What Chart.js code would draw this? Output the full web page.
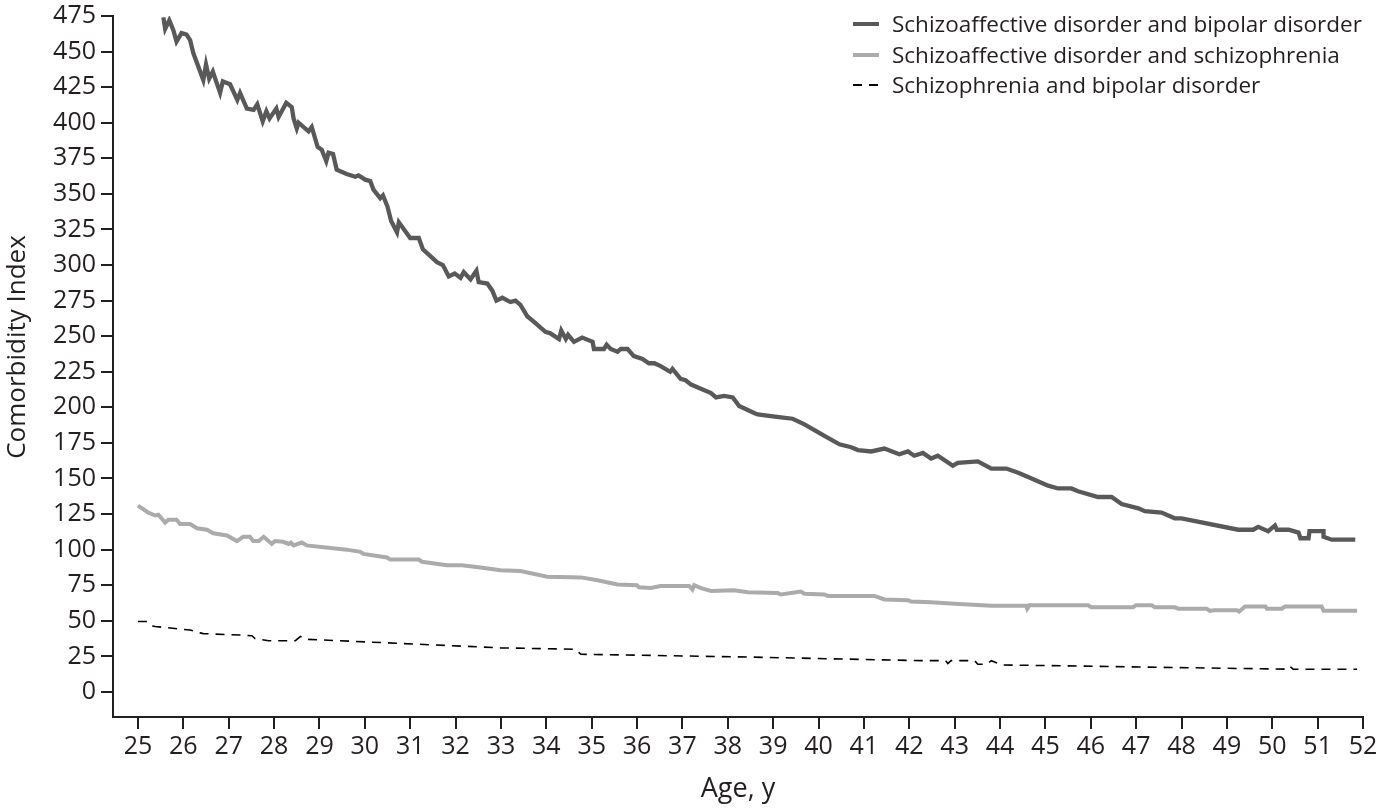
<!DOCTYPE html>
<html>
<head>
<meta charset="utf-8">
<script src="https://cdn.jsdelivr.net/npm/chart.js@4"></script>
<style>
  html, body { margin: 0; padding: 0; background: #fff; }
  canvas { display: block; }
</style>
</head>
<body>
<canvas id="chart" width="1380" height="809"></canvas>
<script>
// Series labels
const seriesNames = [
  "Schizoaffective disorder and bipolar disorder",
  "Schizoaffective disorder and schizophrenia",
  "Schizophrenia and bipolar disorder"
];

// Schizoaffective disorder and bipolar disorder
const saBipAge = [25.56, 25.60, 25.69, 25.78, 25.85, 25.96, 26.07, 26.15, 26.22, 26.44, 26.50, 26.57, 26.65, 26.81, 26.87,
  27.03, 27.19, 27.25, 27.40, 27.55, 27.63, 27.75, 27.83, 27.90, 28.05, 28.10, 28.27, 28.39, 28.43, 28.50, 28.54, 28.76,
  28.83, 28.96, 29.05, 29.15, 29.20, 29.30, 29.38, 29.60, 29.79, 29.86, 30.01, 30.12, 30.19, 30.34, 30.40, 30.50, 30.58,
  30.71, 30.75, 31.00, 31.19, 31.28, 31.59, 31.72, 31.85, 31.98, 32.11, 32.18, 32.33, 32.46, 32.51, 32.70, 32.81, 32.90,
  33.03, 33.21, 33.32, 33.43, 33.58, 33.73, 33.98, 34.09, 34.28, 34.33, 34.43, 34.48, 34.61, 34.79, 35.02, 35.05, 35.27,
  35.33, 35.42, 35.57, 35.64, 35.79, 35.93, 36.12, 36.26, 36.38, 36.52, 36.73, 36.78, 36.96, 37.07, 37.19, 37.63, 37.74,
  37.92, 38.11, 38.25, 38.58, 38.66, 38.91, 39.17, 39.43, 39.69, 39.91, 40.13, 40.46, 40.72, 40.87, 41.16, 41.45, 41.78,
  41.97, 42.11, 42.30, 42.48, 42.63, 42.96, 43.07, 43.51, 43.81, 44.14, 44.40, 44.62, 45.06, 45.28, 45.57, 45.72, 46.16,
  46.46, 46.68, 47.05, 47.19, 47.56, 47.85, 48.00, 49.25, 49.58, 49.69, 49.91, 50.06, 50.10, 50.36, 50.58, 50.62, 50.80,
  50.82, 51.13, 51.13, 51.31, 51.83];
const saBipVal = [474, 466, 472, 465, 457, 463, 462, 458, 449, 430, 441, 431, 436, 421, 429,
  427, 416, 421, 410, 409, 413, 401, 408, 403, 410, 404, 414, 411, 403, 396, 400, 394,
  397, 383, 381, 373, 379, 378, 367, 364, 362, 363, 360, 359, 353, 347, 349, 341, 331,
  323, 330, 319, 319, 311, 302, 300, 292, 294, 291, 295, 290, 296, 288, 287, 282, 275,
  277, 274, 275, 272, 264, 260, 253, 252, 248, 254, 248, 251, 246, 249, 246, 241, 241,
  244, 241, 239, 241, 241, 236, 234, 231, 231, 229, 225, 227, 220, 219, 216, 210, 207,
  208, 207, 201, 196, 195, 194, 193, 192, 188, 184, 180, 174, 172, 170, 169, 171, 167,
  169, 166, 168, 164, 166, 159, 161, 162, 157, 157, 154, 151, 145, 143, 143, 141, 137,
  137, 132, 129, 127, 126, 122, 122, 114, 114, 116, 113, 117, 114, 114, 112, 108, 108,
  113, 113, 109, 107, 107];

// Schizoaffective disorder and schizophrenia
const saSczAge = [25.00, 25.23, 25.38, 25.45, 25.60, 25.67, 25.85, 25.93, 26.15, 26.30, 26.52, 26.66, 26.96, 27.18, 27.32,
  27.47, 27.54, 27.66, 27.77, 27.95, 28.02, 28.20, 28.32, 28.37, 28.43, 28.61, 28.72, 29.60, 29.90, 29.97, 30.49, 30.56,
  31.19, 31.26, 31.81, 32.14, 32.55, 32.99, 33.43, 34.02, 34.76, 35.13, 35.57, 36.00, 36.04, 36.30, 36.52, 37.15, 37.22,
  37.26, 37.41, 37.63, 38.14, 38.44, 39.10, 39.17, 39.61, 39.69, 40.13, 40.20, 41.23, 41.45, 41.97, 42.04, 42.48, 43.00,
  43.81, 44.58, 44.60, 44.65, 45.94, 46.01, 46.93, 47.00, 47.34, 47.41, 47.85, 47.93, 48.55, 48.63, 48.74, 49.22, 49.27,
  49.40, 49.85, 49.88, 50.21, 50.28, 51.09, 51.13, 51.87];
const saSczVal = [131, 126, 124, 124.5, 119, 121, 121, 118, 118, 115, 114, 111.5, 110, 106, 109,
  109, 106, 106, 109, 104, 106, 105.5, 104, 105, 103, 105, 103, 100, 98.5, 97, 94.5, 93,
  93, 91.5, 89, 89, 87.5, 85.5, 85, 81, 80.5, 78.5, 75.5, 75, 73.5, 73, 74.5, 74.5, 72,
  75, 73, 71, 71.5, 70, 69.5, 68.5, 70.5, 69, 68.5, 67.5, 67.5, 65, 64.5, 63.5, 63, 62,
  60.5, 60.5, 58.5, 61, 61, 59.5, 59.5, 61, 61, 59.5, 59.5, 58.5, 58.5, 57, 57.5, 57.5, 56.5,
  60, 60, 58.5, 58.5, 60, 60, 57, 57];

// Schizophrenia and bipolar disorder
const sczBipAge = [25.00, 25.20, 25.30, 25.38, 26.15, 26.37, 26.44, 27.25, 27.51, 27.58, 27.88, 28.47, 28.58, 28.72,
  32.99, 34.65, 34.76, 38.50, 42.26, 42.80, 42.85, 42.92, 43.44, 43.51, 43.70, 43.81, 44.03, 50.32, 50.39, 50.46, 51.87];
const sczBipVal = [49.5, 49.5, 46.5, 46, 43.5, 41.5, 41, 40, 39.5, 37.5, 36, 36, 39, 37,
  31, 30, 26.5, 24.5, 22, 22, 20, 22, 22, 19.5, 19.5, 22, 19, 16, 18, 16, 16];

// Axis ticks
const ageTicks = [25, 26, 27, 28, 29, 30, 31, 32, 33, 34, 35, 36, 37, 38, 39, 40, 41, 42, 43, 44, 45, 46, 47, 48, 49, 50, 51, 52];
const indexTicks = [0, 25, 50, 75, 100, 125, 150, 175, 200, 225, 250, 275, 300, 325, 350, 375, 400, 425, 450, 475];

const toPoints = (xs, ys) => xs.map((x, i) => ({ x: x, y: ys[i] }));

const FONT = "'Open Sans', 'Noto Sans', sans-serif";
const INK = "#231f20";

// legend drawn at top right inside the plot
const legendPlugin = {
  id: "cornerLegend",
  afterDraw(chart) {
    const ctx = chart.ctx;
    const x0 = 853, x1 = 879, tx = 892;
    const rows = [24, 55, 85];
    ctx.save();
    ctx.font = "22.5px " + FONT;
    ctx.textBaseline = "middle";
    ctx.fillStyle = INK;
    chart.data.datasets.forEach((ds, i) => {
      ctx.beginPath();
      ctx.strokeStyle = ds.borderColor;
      ctx.lineWidth = ds.borderDash ? 2 : 4;
      ctx.setLineDash(ds.borderDash || []);
      ctx.moveTo(x0, rows[i]);
      ctx.lineTo(x1, rows[i]);
      ctx.stroke();
      ctx.setLineDash([]);
      ctx.fillText(ds.label, tx, rows[i] + 2);
    });
    ctx.restore();
  }
};

new Chart(document.getElementById("chart"), {
  type: "line",
  data: {
    datasets: [
      { label: seriesNames[0], data: toPoints(saBipAge, saBipVal), borderColor: "#595959", borderWidth: 4.3 },
      { label: seriesNames[1], data: toPoints(saSczAge, saSczVal), borderColor: "#ababab", borderWidth: 4 },
      { label: seriesNames[2], data: toPoints(sczBipAge, sczBipVal), borderColor: "#000000", borderWidth: 1.6, borderDash: [9, 7] }
    ]
  },
  options: {
    responsive: false,
    animation: false,
    devicePixelRatio: 1,
    elements: { point: { radius: 0 }, line: { tension: 0, borderJoinStyle: "miter", borderCapStyle: "butt" } },
    layout: { padding: { left: 0, right: 17, top: 16, bottom: 0 } },
    plugins: { legend: { display: false }, tooltip: { enabled: false } },
    scales: {
      x: {
        type: "linear",
        min: 24.45,
        max: 52,
        afterFit: (s) => { s.height = 92; s.paddingLeft = 0; s.paddingRight = 0; },
        afterBuildTicks: (s) => { s.ticks = ageTicks.map(v => ({ value: v })); },
        ticks: { color: INK, font: { family: FONT, size: 25 }, padding: 3, maxRotation: 0, autoSkip: false },
        grid: { drawOnChartArea: false, drawTicks: true, tickLength: 12, color: INK, lineWidth: 2 },
        border: { display: true, color: INK, width: 2 },
        title: { display: true, text: "Age, y", color: INK, font: { family: FONT, size: 27 }, padding: { top: 0, bottom: 3 } }
      },
      y: {
        type: "linear",
        min: -17.6,
        max: 475,
        afterFit: (s) => { s.width = 113; s.paddingTop = 0; s.paddingBottom = 0; },
        afterBuildTicks: (s) => { s.ticks = indexTicks.map(v => ({ value: v })); },
        ticks: { color: INK, font: { family: FONT, size: 25 }, padding: 5, autoSkip: false },
        grid: { drawOnChartArea: false, drawTicks: true, tickLength: 12, color: INK, lineWidth: 2 },
        border: { display: true, color: INK, width: 2 },
        title: { display: true, text: "\u2002\u2002\u2002Comorbidity Index", color: INK, font: { family: FONT, size: 26 }, padding: { top: 2, bottom: 0 } }
      }
    }
  },
  plugins: [legendPlugin]
});
</script>
</body>
</html>
